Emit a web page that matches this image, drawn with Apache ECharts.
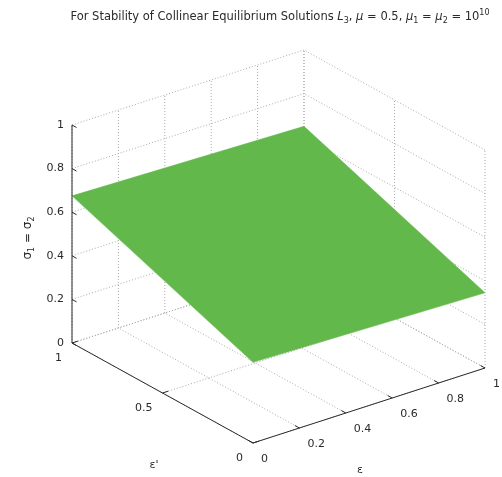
<!DOCTYPE html>
<html>
<head>
<meta charset="utf-8">
<script src="https://cdn.jsdelivr.net/npm/echarts@6/dist/echarts.min.js"></script>
<style>
  html, body { margin: 0; padding: 0; background: #ffffff; }
  #chart { width: 502px; height: 477px; }
</style>
</head>
<body>
<div id="chart"></div>
<script>
// ---- Axis ticks ----
const epsTicks = [0, 0.2, 0.4, 0.6, 0.8, 1];
const epsTickLabels = ['0', '0.2', '0.4', '0.6', '0.8', '1'];
const epsPrimeTicks = [0, 0.5, 1];
const epsPrimeTickLabels = ['0', '0.5', '1'];
const sigmaTicks = [0, 0.2, 0.4, 0.6, 0.8, 1];
const sigmaTickLabels = ['0', '0.2', '0.4', '0.6', '0.8', '1'];

// ---- Surface samples: surfSigma[i][j] is sigma at (surfEps[j], surfEpsPrime[i]) ----
const surfEps = [0, 1];
const surfEpsPrime = [0, 1];
const surfSigma = [
  [0.37, 0.345],
  [0.675, 0.65]
];

// ---- Orthographic view: screen direction of each unit axis ----
const VIEW = { origin: [253, 443], ex: [232, -75], ey: [-181, -100], ez: [0, -218] };
function project(x, y, z) {
  return [
    VIEW.origin[0] + x * VIEW.ex[0] + y * VIEW.ey[0] + z * VIEW.ez[0],
    VIEW.origin[1] + x * VIEW.ex[1] + y * VIEW.ey[1] + z * VIEW.ez[1]
  ];
}

const FONT = '"DejaVu Sans", Verdana, sans-serif';
const TEXT_COLOR = '#2a2a2a';
const AXIS_COLOR = '#2b2b2b';
const GRID_COLOR = '#ababab';
const SURFACE_COLOR = '#63b84b';

// ---- Grid lines on the back walls and the floor ----
const gridSegments = [];
epsTicks.forEach(function (x) {
  gridSegments.push([x, 1, 0, x, 1, 1]);   // back wall (eps' = 1), vertical
  gridSegments.push([x, 0, 0, x, 1, 0]);   // floor
});
epsPrimeTicks.forEach(function (y) {
  gridSegments.push([1, y, 0, 1, y, 1]);   // side wall (eps = 1), vertical
  gridSegments.push([0, y, 0, 1, y, 0]);   // floor
});
sigmaTicks.forEach(function (z) {
  gridSegments.push([0, 1, z, 1, 1, z]);   // back wall, horizontal
  gridSegments.push([1, 0, z, 1, 1, z]);   // side wall, horizontal
});

// ---- Axis lines and tick marks ----
const TICK = 0.025;
const axisSegments = [
  [0, 0, 0, 1, 0, 0],   // eps axis
  [0, 0, 0, 0, 1, 0],   // eps' axis
  [0, 1, 0, 0, 1, 1]    // sigma axis
];
epsTicks.forEach(function (x) { axisSegments.push([x, 0, 0, x, TICK, 0]); });
epsPrimeTicks.forEach(function (y) { axisSegments.push([0, y, 0, TICK, y, 0]); });
sigmaTicks.forEach(function (z) { axisSegments.push([0, 1, z, 0, 1 - TICK, z]); });

// ---- Surface cells ----
const surfCells = [];
for (let i = 0; i < surfEpsPrime.length - 1; i++) {
  for (let j = 0; j < surfEps.length - 1; j++) {
    surfCells.push([
      surfEps[j], surfEpsPrime[i], surfSigma[i][j],
      surfEps[j + 1], surfEpsPrime[i], surfSigma[i][j + 1],
      surfEps[j + 1], surfEpsPrime[i + 1], surfSigma[i + 1][j + 1],
      surfEps[j], surfEpsPrime[i + 1], surfSigma[i + 1][j]
    ]);
  }
}

// ---- Tick labels: [x, y, z, dx, dy, alignIndex] ----
const tickLabelTexts = [];
const tickLabelData = [];
epsTicks.forEach(function (x, k) {
  tickLabelTexts.push(epsTickLabels[k]);
  tickLabelData.push([x, 0, 0, 8, 16, 0]);
});
epsPrimeTicks.forEach(function (y, k) {
  tickLabelTexts.push(epsPrimeTickLabels[k]);
  tickLabelData.push([0, y, 0, -10, 15, 1]);
});
sigmaTicks.forEach(function (z, k) {
  tickLabelTexts.push(sigmaTickLabels[k]);
  tickLabelData.push([0, 1, z, -8, 0, 1]);
});
const ALIGNS = ['left', 'right'];

function segmentRenderer(style) {
  return function (params, api) {
    const a = api.coord(project(api.value(0), api.value(1), api.value(2)));
    const b = api.coord(project(api.value(3), api.value(4), api.value(5)));
    return {
      type: 'line',
      shape: { x1: a[0], y1: a[1], x2: b[0], y2: b[1] },
      style: style
    };
  };
}

const chart = echarts.init(document.getElementById('chart'), null, { renderer: 'canvas' });

chart.setOption({
  backgroundColor: '#ffffff',
  animation: false,
  grid: { left: 0, top: 0, right: 0, bottom: 0 },
  xAxis: { type: 'value', min: 0, max: 502, show: false },
  yAxis: { type: 'value', min: 0, max: 477, inverse: true, show: false },
  series: [
    {
      type: 'custom',
      coordinateSystem: 'cartesian2d',
      silent: true,
      z: 1,
      data: gridSegments,
      renderItem: segmentRenderer({ stroke: GRID_COLOR, lineWidth: 1, lineDash: [1, 2] })
    },
    {
      type: 'custom',
      coordinateSystem: 'cartesian2d',
      silent: true,
      z: 2,
      data: surfCells,
      renderItem: function (params, api) {
        const pts = [];
        for (let k = 0; k < 4; k++) {
          pts.push(api.coord(project(api.value(3 * k), api.value(3 * k + 1), api.value(3 * k + 2))));
        }
        return {
          type: 'polygon',
          shape: { points: pts },
          style: { fill: SURFACE_COLOR, stroke: SURFACE_COLOR, lineWidth: 0.5 }
        };
      }
    },
    {
      type: 'custom',
      coordinateSystem: 'cartesian2d',
      silent: true,
      z: 3,
      data: axisSegments,
      renderItem: segmentRenderer({ stroke: AXIS_COLOR, lineWidth: 1 })
    },
    {
      type: 'custom',
      coordinateSystem: 'cartesian2d',
      silent: true,
      z: 4,
      data: tickLabelData,
      renderItem: function (params, api) {
        const p = api.coord(project(api.value(0), api.value(1), api.value(2)));
        const align = ALIGNS[api.value(5)];
        return {
          type: 'text',
          x: p[0] + api.value(3),
          y: p[1] + api.value(4),
          style: {
            text: tickLabelTexts[params.dataIndex],
            fill: TEXT_COLOR,
            font: '11px ' + FONT,
            align: align,
            verticalAlign: 'middle',
            textAlign: align,
            textVerticalAlign: 'middle'
          }
        };
      }
    }
  ],
  graphic: [
    {
      type: 'text',
      x: 280,
      y: 17,
      style: {
        text: '{t|For Stability of Collinear Equilibrium Solutions }{i|L}{s|3}{t|, }{i|μ}{t| = 0.5, }{i|μ}{s|1}{t| = }{i|μ}{s|2}{t| = 10}{p|10}',
        align: 'center',
        verticalAlign: 'middle',
        rich: {
          t: { fontSize: 11.5, fontFamily: FONT, fill: TEXT_COLOR, lineHeight: 16 },
          i: { fontSize: 11.5, fontFamily: FONT, fontStyle: 'italic', fill: TEXT_COLOR, lineHeight: 16 },
          s: { fontSize: 8, fontFamily: FONT, fill: TEXT_COLOR, lineHeight: 8, verticalAlign: 'bottom' },
          p: { fontSize: 8, fontFamily: FONT, fill: TEXT_COLOR, lineHeight: 8, verticalAlign: 'top' }
        }
      }
    },
    {
      type: 'text',
      x: 28,
      y: 238,
      rotation: Math.PI / 2,
      style: {
        text: '{g|σ}{s|1}{g| = σ}{s|2}',
        align: 'center',
        verticalAlign: 'middle',
        rich: {
          g: { fontSize: 12, fontFamily: FONT, fill: TEXT_COLOR, lineHeight: 16 },
          s: { fontSize: 8, fontFamily: FONT, fill: TEXT_COLOR, lineHeight: 8, verticalAlign: 'bottom' }
        }
      }
    },
    {
      type: 'text',
      x: 360,
      y: 470,
      style: { text: 'ε', font: '11px ' + FONT, fill: TEXT_COLOR, align: 'center', verticalAlign: 'middle' }
    },
    {
      type: 'text',
      x: 154,
      y: 465,
      style: { text: 'ε\'', font: '11px ' + FONT, fill: TEXT_COLOR, align: 'center', verticalAlign: 'middle' }
    }
  ]
});
</script>
</body>
</html>
